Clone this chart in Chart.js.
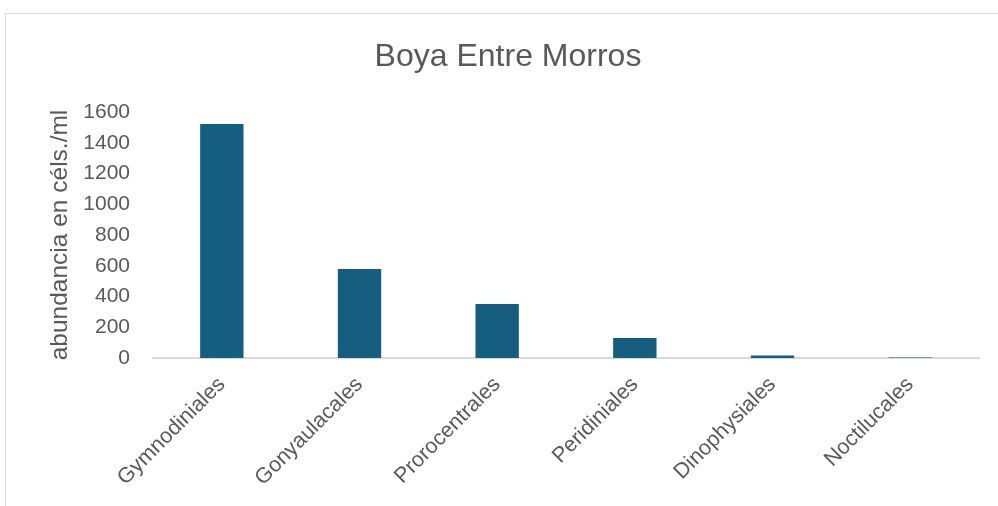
<!DOCTYPE html>
<html>
<head>
<meta charset="utf-8">
<script src="https://cdn.jsdelivr.net/npm/chart.js@4"></script>
<style>
    body { margin: 0; background: #fff; }
    #wrap { position: relative; width: 998px; height: 506px; overflow: hidden; }
    #frame { position: absolute; left: 5px; top: 13px; width: 1100px; height: 600px; border: 1px solid #d9d9d9; }
    canvas { position: absolute; left: 0; top: 0; }
</style>
</head>
<body>
<div id="wrap">
    <div id="frame"></div>
    <canvas id="myChart" width="998" height="506"></canvas>
</div>
<script>
const categories = ['Gymnodiniales', 'Gonyaulacales', 'Prorocentrales', 'Peridiniales', 'Dinophysiales', 'Noctilucales'];
const abundance = [1522, 579, 351, 130, 17, 3];
const yTicks = [0, 200, 400, 600, 800, 1000, 1200, 1400, 1600];

const textColor = '#595959';
const fontFamily = "'Liberation Sans', Arial, sans-serif";

const ctx = document.getElementById('myChart').getContext('2d');

new Chart(ctx, {
    type: 'bar',
    data: {
        labels: categories,
        datasets: [{
            label: 'abundancia',
            data: abundance,
            backgroundColor: '#165e80',
            barPercentage: 0.315,
            categoryPercentage: 1.0
        }]
    },
    options: {
        responsive: false,
        animation: false,
        layout: { padding: { left: 18, right: 0, top: 0, bottom: 0 } },
        plugins: {
            legend: { display: false },
            tooltip: { enabled: false },
            title: {
                display: true,
                text: 'Boya Entre Morros',
                color: textColor,
                font: { family: fontFamily, size: 32, weight: 'normal' },
                padding: { top: 38, bottom: 35.6 }
            }
        },
        scales: {
            x: {
                grid: { display: false, drawTicks: false },
                border: { color: '#d9d9d9', width: 2 },
                ticks: {
                    color: textColor,
                    font: { family: fontFamily, size: 21.5 },
                    minRotation: 45,
                    maxRotation: 45,
                    padding: 14
                },
                afterFit: scale => { scale.height = 148; }
            },
            y: {
                min: 0,
                max: 1600,
                afterBuildTicks: scale => { scale.ticks = yTicks.map(v => ({ value: v })); },
                grid: { display: false, drawTicks: false },
                border: { display: false },
                ticks: {
                    color: textColor,
                    font: { family: fontFamily, size: 21 },
                    padding: 23,
                    callback: value => String(value)
                },
                title: {
                    display: true,
                    text: 'abundancia en céls./ml',
                    color: textColor,
                    font: { family: fontFamily, size: 24.5 },
                    padding: { top: 28, bottom: 0 }
                },
                afterFit: scale => { scale.width = 135; }
            },
            // empty spacer on the right so the plot ends short of the edge
            spacer: {
                type: 'linear',
                position: 'right',
                display: true,
                grid: { display: false, drawTicks: false },
                border: { display: false },
                ticks: { display: false },
                afterFit: scale => { scale.width = 19; }
            }
        }
    }
});
</script>
</body>
</html>
